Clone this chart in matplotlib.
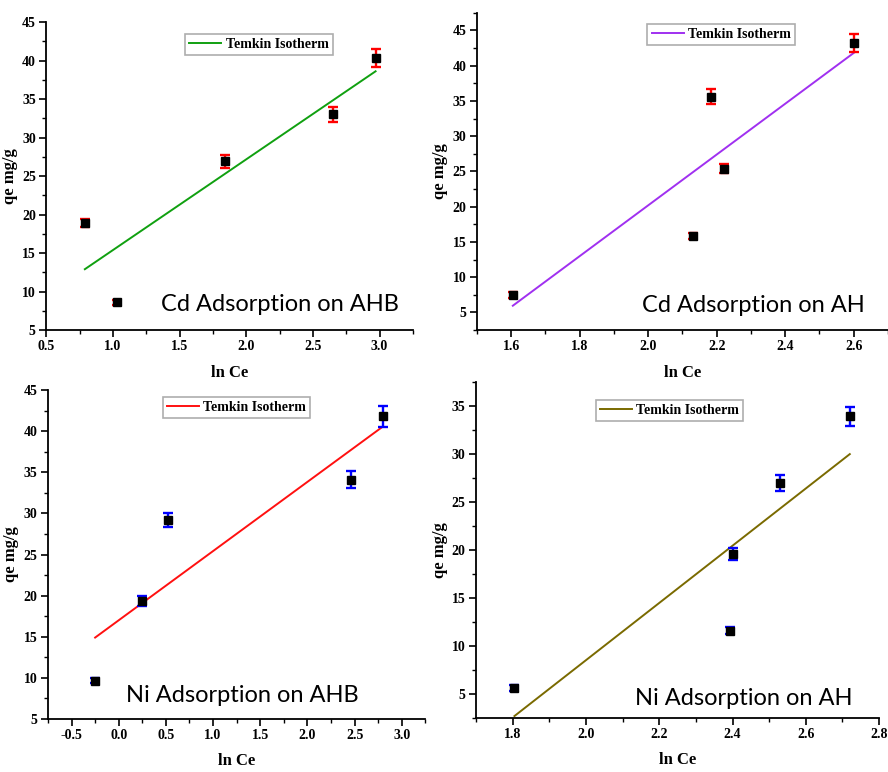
import numpy as np
import matplotlib.pyplot as plt
from matplotlib.ticker import MultipleLocator

plt.rcParams['axes.unicode_minus'] = False

# Cd on AHB
cd_ahb_x = [0.79, 1.03, 1.84, 2.65, 2.97]
cd_ahb_y = [18.9, 8.6, 26.9, 33.0, 40.3]
cd_ahb_err = [0.5, 0.3, 0.8, 1.0, 1.2]
cd_ahb_fit_x = [0.79, 2.97]
cd_ahb_fit_y = [12.9, 38.6]

# Cd on AH
cd_ah_x = [1.605, 2.132, 2.182, 2.222, 2.601]
cd_ah_y = [7.5, 15.8, 35.6, 25.4, 43.2]
cd_ah_err = [0.4, 0.4, 1.05, 0.7, 1.3]
cd_ah_fit_x = [1.605, 2.60]
cd_ah_fit_y = [5.95, 41.8]

# Ni on AHB
ni_ahb_x = [-0.25, 0.25, 0.52, 2.465, 2.80]
ni_ahb_y = [9.65, 19.3, 29.2, 34.1, 41.8]
ni_ahb_err = [0.3, 0.6, 0.8, 1.0, 1.3]
ni_ahb_fit_x = [-0.25, 2.78]
ni_ahb_fit_y = [14.9, 40.4]

# Ni on AH
ni_ah_x = [1.805, 2.393, 2.40, 2.53, 2.72]
ni_ah_y = [5.6, 11.6, 19.6, 27.0, 33.95]
ni_ah_err = [0.3, 0.35, 0.6, 0.8, 1.0]
ni_ah_fit_x = [1.805, 2.72]
ni_ah_fit_y = [2.7, 30.0]

serif = 'Liberation Serif'

fig = plt.figure(figsize=(8.88, 7.72), dpi=100)

panels = [
    # rect, data, fit colour, err colour, xlim, ylim, xmajor, ymajor, title, title pos, legend anchor
    ([0.052, 0.5725, 0.413, 0.399], (cd_ahb_x, cd_ahb_y, cd_ahb_err, cd_ahb_fit_x, cd_ahb_fit_y),
     '#10a010', 'red', (0.5, 3.25), (5, 45), 0.5, 5, 'Cd Adsorption on AHB', (2.25, 8.3), (0.58, 0.985)),
    ([0.537, 0.5725, 0.463, 0.411], (cd_ah_x, cd_ah_y, cd_ah_err, cd_ah_fit_x, cd_ah_fit_y),
     '#a030f0', 'red', (1.5, 2.7), (2.5, 47.5), 0.2, 5, 'Cd Adsorption on AH', (2.307, 6.0), (0.594, 0.987)),
    ([0.054, 0.0687, 0.425, 0.426], (ni_ahb_x, ni_ahb_y, ni_ahb_err, ni_ahb_fit_x, ni_ahb_fit_y),
     '#ff1010', 'blue', (-0.75, 3.25), (5, 45), 0.5, 5, 'Ni Adsorption on AHB', (1.313, 7.8), (0.50, 1.0)),
    ([0.536, 0.070, 0.454, 0.435], (ni_ah_x, ni_ah_y, ni_ah_err, ni_ah_fit_x, ni_ah_fit_y),
     '#7a6a00', 'blue', (1.7, 2.8), (2.5, 37.5), 0.2, 5, 'Ni Adsorption on AH', (2.431, 4.5), (0.48, 0.967)),
]

for rect, data, fitc, errc, xl, yl, xmaj, ymaj, title, tpos, lpos in panels:
    ax = fig.add_axes(rect)
    x, y, err, fx, fy = data
    ax.errorbar(x, y, yerr=err, fmt='s', color='black', ms=5.5, ecolor=errc,
                elinewidth=1.7, capsize=3.5, capthick=1.7, zorder=3)
    ax.plot(fx, fy, color=fitc, lw=1.4, label='Temkin Isotherm', zorder=2)
    ax.set_xlim(*xl)
    ax.set_ylim(*yl)
    ax.xaxis.set_major_locator(MultipleLocator(xmaj))
    ax.xaxis.set_minor_locator(MultipleLocator(xmaj / 2))
    ax.yaxis.set_major_locator(MultipleLocator(ymaj))
    ax.yaxis.set_minor_locator(MultipleLocator(ymaj / 2))
    ax.spines['top'].set_visible(False)
    ax.spines['right'].set_visible(False)
    for s in ['left', 'bottom']:
        ax.spines[s].set_linewidth(1.3)
    ax.tick_params(which='major', direction='out', length=5, width=1.2, pad=2.5)
    ax.tick_params(which='minor', direction='out', length=3, width=1.0)
    for lab in ax.get_xticklabels() + ax.get_yticklabels():
        lab.set_fontfamily(serif)
        lab.set_fontweight('bold')
        lab.set_fontsize(10)
    ax.set_xlabel('ln Ce', fontfamily=serif, fontweight='bold', fontsize=12, labelpad=8)
    ax.set_ylabel('qe mg/g', fontfamily=serif, fontweight='bold', fontsize=12, labelpad=3)
    ax.text(tpos[0], tpos[1], title, ha='center', va='center', fontsize=17,
            fontfamily='Lato')
    leg = ax.legend(loc='upper center', bbox_to_anchor=lpos, fancybox=False,
                    prop={'family': serif, 'weight': 'bold', 'size': 10},
                    handlelength=2.3, borderpad=0.3, handletextpad=0.3)
    leg.get_frame().set_edgecolor('#999999')
    leg.get_frame().set_linewidth(1.2)

fig.savefig('out.png', dpi=100)
